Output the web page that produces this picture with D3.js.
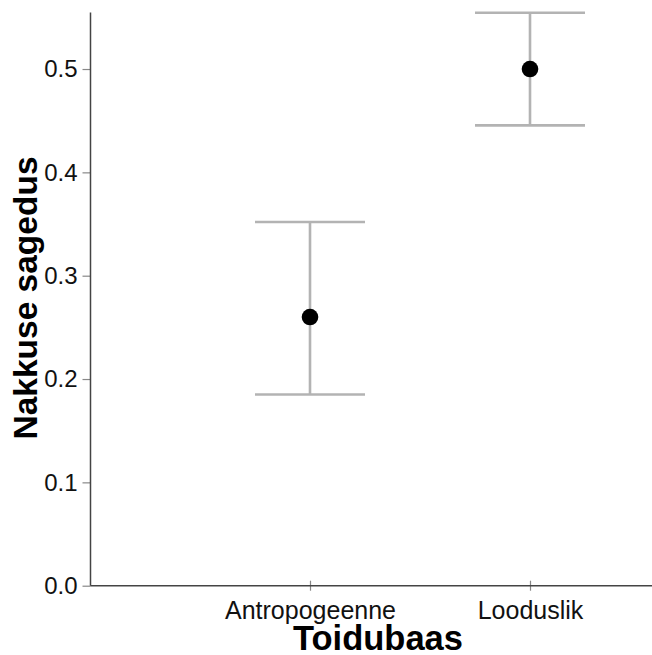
<!DOCTYPE html>
<html>
<head>
<meta charset="utf-8">
<script src="https://cdn.jsdelivr.net/npm/d3@7"></script>
<style>
body{margin:0;background:#fff;}
text{font-family:"Liberation Sans",Arial,sans-serif;}
</style>
</head>
<body>
<div id="chart"></div>
<script>
// andmed
var categories=["Antropogeenne","Looduslik"];
var means=[0.26,0.50];
var lower=[0.185,0.4455];
var upper=[0.352,0.5545];
var yticks=[0.0,0.1,0.2,0.3,0.4,0.5];

var width=652,height=655;
var pleft=90.5,ptop=12.5,pbottom=585.7,pright=660;

var svg=d3.select("#chart").append("svg")
	.attr("width",width)
	.attr("height",height);

var y=d3.scaleLinear().domain([0,0.5547]).range([pbottom,ptop]);
var x=d3.scalePoint().domain(categories).range([310,530]);
var capw=55;

// y telg
var yg=svg.append("g").attr("transform","translate("+pleft+",0)");
yg.call(d3.axisLeft(y).tickValues(yticks).tickFormat(d3.format(".1f")).tickSize(8).tickPadding(5));
yg.select(".domain").remove();
yg.selectAll(".tick line").attr("stroke","#888").attr("stroke-width",1.2);
yg.selectAll(".tick text").attr("font-size","24px").attr("fill","#111").attr("font-family","Liberation Sans, Arial, sans-serif");

// x telg
var xg=svg.append("g").attr("transform","translate(0,"+pbottom+")");
xg.call(d3.axisBottom(x).tickSize(5).tickPadding(11));
xg.select(".domain").remove();
xg.selectAll(".tick line").attr("y1",-5).attr("stroke","#888").attr("stroke-width",1.2);
xg.selectAll(".tick text").attr("font-size","25px").attr("fill","#111").attr("font-family","Liberation Sans, Arial, sans-serif");

// telje jooned
svg.append("line").attr("x1",pleft).attr("x2",pleft).attr("y1",ptop).attr("y2",pbottom)
	.attr("stroke","#444").attr("stroke-width",1.5);
svg.append("line").attr("x1",pleft).attr("x2",pright).attr("y1",pbottom).attr("y2",pbottom)
	.attr("stroke","#444").attr("stroke-width",1.5);

// veapiirid
var eb=svg.append("g").selectAll("g").data(categories).enter().append("g");
eb.append("line")
	.attr("x1",function(d){return x(d);}).attr("x2",function(d){return x(d);})
	.attr("y1",function(d,i){return y(upper[i]);}).attr("y2",function(d,i){return y(lower[i]);})
	.attr("stroke","#b3b3b3").attr("stroke-width",2.6);
eb.append("line")
	.attr("x1",function(d){return x(d)-capw;}).attr("x2",function(d){return x(d)+capw;})
	.attr("y1",function(d,i){return y(upper[i]);}).attr("y2",function(d,i){return y(upper[i]);})
	.attr("stroke","#b3b3b3").attr("stroke-width",2.6);
eb.append("line")
	.attr("x1",function(d){return x(d)-capw;}).attr("x2",function(d){return x(d)+capw;})
	.attr("y1",function(d,i){return y(lower[i]);}).attr("y2",function(d,i){return y(lower[i]);})
	.attr("stroke","#b3b3b3").attr("stroke-width",2.6);
eb.append("circle")
	.attr("cx",function(d){return x(d);})
	.attr("cy",function(d,i){return y(means[i]);})
	.attr("r",8.3)
	.attr("fill","#000");

// pealkirjad
svg.append("text")
	.attr("x",378).attr("y",650)
	.attr("text-anchor","middle")
	.attr("font-size","34.5px").attr("font-weight","bold")
	.text("Toidubaas");
svg.append("text")
	.attr("transform","translate(37,298) rotate(-90)")
	.attr("text-anchor","middle")
	.attr("font-size","33.5px").attr("font-weight","bold")
	.text("Nakkuse sagedus");
</script>
</body>
</html>
